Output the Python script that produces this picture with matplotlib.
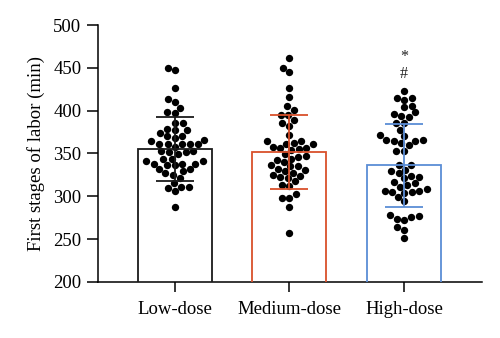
import numpy as np
import pandas as pd
import matplotlib
matplotlib.use("Agg")
import matplotlib.pyplot as plt
import seaborn as sns

# groups and colours
groups = ["Low-dose", "Medium-dose", "High-dose"]
colors = ["#1a1a1a", "#D9502B", "#5B8DD6"]

# bar heights (mean) and error bars (SD)
means = [355, 352, 336]
sds = [37, 43, 48]

# individual values (min)
low = [450, 447, 426, 414, 410, 403, 398, 397, 386, 386, 379, 377, 377, 374, 370,
       370, 368, 366, 364, 361, 361, 361, 361, 361, 358, 353, 352, 352, 353, 349,
       344, 344, 341, 341, 338, 338, 338, 337, 336, 332, 332, 329, 327, 325, 321,
       315, 311, 310, 311, 306, 288]
medium = [461, 450, 445, 426, 416, 405, 401, 395, 395, 389, 385, 382, 371, 364, 364,
          362, 361, 361, 358, 356, 356, 355, 354, 349, 347, 346, 344, 342, 340, 336,
          335, 335, 332, 331, 329, 327, 325, 324, 322, 321, 318, 313, 312, 303, 298,
          298, 288, 257]
high = [423, 415, 415, 413, 406, 404, 398, 396, 394, 393, 386, 386, 377, 371, 370,
        366, 366, 365, 364, 362, 360, 353, 353, 337, 336, 331, 329, 327, 324, 322,
        321, 317, 315, 313, 311, 308, 306, 306, 305, 305, 304, 299, 294, 278, 277,
        276, 274, 272, 264, 261, 251]

marks = ["*", "#"]
mark_y = [463, 443]

plt.rcParams["font.family"] = ["Liberation Serif", "DejaVu Serif"]

df = pd.DataFrame({
    "group": ["Low-dose"] * len(low) + ["Medium-dose"] * len(medium) + ["High-dose"] * len(high),
    "value": low + medium + high,
})

fig = plt.figure(figsize=(5.0, 3.38), dpi=100)
ax = fig.add_axes([0.196, 0.166, 0.768, 0.760])

x = np.arange(len(groups))
ax.bar(x, means, width=0.645, fill=False, edgecolor=colors, linewidth=1.3, zorder=3)

sns.swarmplot(data=df, x="group", y="value", order=groups, color="black",
              size=5.3, ax=ax, zorder=2)

for i in range(len(groups)):
    ax.errorbar(x[i], means[i], yerr=sds[i], color=colors[i], capsize=14,
                elinewidth=1.3, capthick=1.3, zorder=4)

for m, yy in zip(marks, mark_y):
    ax.text(x[2], yy, m, ha="center", va="center", fontsize=11.5, color="#222222")

ax.set_xlim(-0.67, 2.68)
ax.set_ylim(200, 500)
ax.set_yticks(range(200, 501, 50))
ax.set_xticks(x)
ax.set_xticklabels(groups)
ax.set_xlabel("")
ax.set_ylabel("First stages of labor (min)", fontsize=13.5, labelpad=6)

for side in ["top", "right"]:
    ax.spines[side].set_visible(False)
for side in ["left", "bottom"]:
    ax.spines[side].set_linewidth(1.1)
ax.tick_params(axis="y", length=8, width=1.1, labelsize=13.5, pad=4)
ax.tick_params(axis="x", length=7, width=1.1, labelsize=13.5, pad=7)

fig.savefig("out.png", dpi=100)
